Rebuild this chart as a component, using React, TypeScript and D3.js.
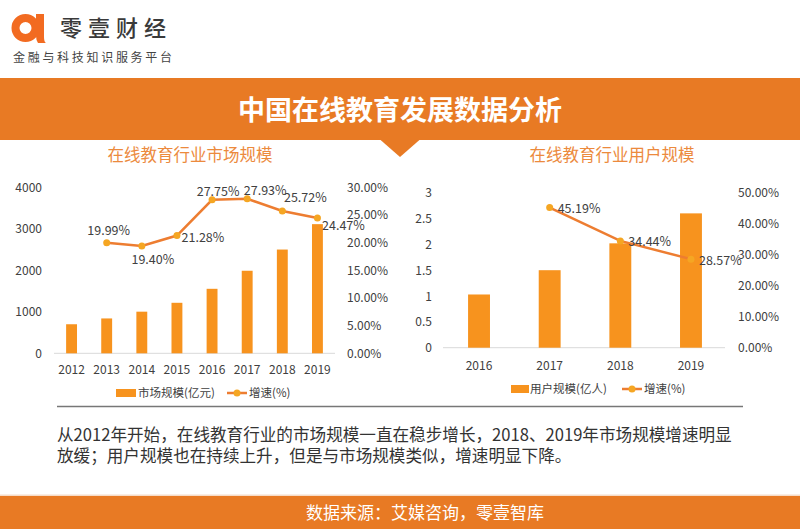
import React from "react";
import * as d3 from "d3";

const marketYears = ["2012", "2013", "2014", "2015", "2016", "2017", "2018", "2019"];
const marketSize = [700, 840, 1003, 1217, 1554, 1989, 2500, 3112];
const marketGrowthYears = ["2013", "2014", "2015", "2016", "2017", "2018", "2019"];
const marketGrowth = [0.1999, 0.194, 0.2128, 0.2775, 0.2793, 0.2572, 0.2447];
const marketLeftTicks = [0, 1000, 2000, 3000, 4000];
const marketRightTicks = [0, 0.05, 0.1, 0.15, 0.2, 0.25, 0.3];

const userYears = ["2016", "2017", "2018", "2019"];
const userSize = [1.03, 1.5, 2.02, 2.6];
const userGrowthYears = ["2017", "2018", "2019"];
const userGrowth = [0.4519, 0.3444, 0.2857];
const userLeftTicks = [0, 0.5, 1, 1.5, 2, 2.5, 3];
const userRightTicks = [0, 0.1, 0.2, 0.3, 0.4, 0.5];

// label layout offsets (dx from point centre, dy baseline offset)
const marketLabelDx = [2, 11, 26, 6, 18, 23, 26];
const marketLabelDy = [-8, 18.5, 6, -4, -4, -8.5, 12.5];

const FONT = "'Noto Sans CJK SC', 'Noto Sans', sans-serif";
const BAR = "#F7931E";
const LINE = "#ED7D31";
const MARK = "#F5A623";
const HEAD = "#E87A24";
const TXT = "#404040";

const pct = (v: number) => (v * 100).toFixed(2) + "%";

function MarketChart() {
  const x = d3.scaleBand<string>().domain(marketYears).range([54, 335]).paddingInner(0.69).paddingOuter(0.345);
  const yL = d3.scaleLinear().domain([0, 4000]).range([353.3, 187.3]);
  const yR = d3.scaleLinear().domain([0, 0.3]).range([353.3, 187.3]);
  const cx = (yr: string) => (x(yr) as number) + x.bandwidth() / 2;
  const line = d3.line<number>().x((_, i) => cx(marketGrowthYears[i])).y((d) => yR(d));
  return (
    <g fontFamily={FONT}>
      <text x={190} y={161} textAnchor="middle" fontSize={16.5} fill="#EC8A3D">在线教育行业市场规模</text>
      {marketLeftTicks.map((t) => (
        <text key={t} x={42} y={yL(t) + 4.5} textAnchor="end" fontSize={12} fill={TXT}>{t}</text>
      ))}
      {marketRightTicks.map((t) => (
        <text key={t} x={347} y={yR(t) + 4.5} textAnchor="start" fontSize={12} fill={TXT}>{pct(t)}</text>
      ))}
      <line x1={54} x2={335} y1={yL(0)} y2={yL(0)} stroke="#d9d9d9" strokeWidth={1} />
      {marketSize.map((v, i) => (
        <rect key={i} x={x(marketYears[i])} y={yL(v)} width={x.bandwidth()} height={yL(0) - yL(v)} fill={BAR} />
      ))}
      {marketYears.map((yr) => (
        <text key={yr} x={cx(yr)} y={373.5} textAnchor="middle" fontSize={12} fill={TXT}>{yr}</text>
      ))}
      <path d={line(marketGrowth) || ""} fill="none" stroke={LINE} strokeWidth={2.5} />
      {marketGrowth.map((v, i) => (
        <circle key={i} cx={cx(marketGrowthYears[i])} cy={yR(v)} r={3.5} fill={MARK} />
      ))}
      {marketGrowth.map((v, i) => (
        <text key={"l" + i} x={cx(marketGrowthYears[i]) + marketLabelDx[i]} y={yR(v) + marketLabelDy[i]} textAnchor="middle" fontSize={12.5} fill={TXT}>{pct(v)}</text>
      ))}
      <rect x={116} y={389} width={20} height={8} fill={BAR} />
      <text x={138} y={397} fontSize={11.5} fill={TXT}>市场规模(亿元)</text>
      <line x1={227} x2={247} y1={393} y2={393} stroke={LINE} strokeWidth={2.5} />
      <circle cx={237} cy={393} r={3.5} fill={MARK} />
      <text x={249} y={397} fontSize={11.5} fill={TXT}>增速(%)</text>
    </g>
  );
}

function UserChart() {
  const x = d3.scaleBand<string>().domain(userYears).range([443.7, 726.3]).paddingInner(0.69).paddingOuter(0.345);
  const yL = d3.scaleLinear().domain([0, 3]).range([347.7, 192.7]);
  const yR = d3.scaleLinear().domain([0, 0.5]).range([347.7, 192.7]);
  const cx = (yr: string) => (x(yr) as number) + x.bandwidth() / 2;
  const line = d3.line<number>().x((_, i) => cx(userGrowthYears[i])).y((d) => yR(d));
  return (
    <g fontFamily={FONT}>
      <text x={612} y={161} textAnchor="middle" fontSize={16.5} fill="#EC8A3D">在线教育行业用户规模</text>
      {userLeftTicks.map((t) => (
        <text key={t} x={432} y={yL(t) + 4.5} textAnchor="end" fontSize={12} fill={TXT}>{String(t)}</text>
      ))}
      {userRightTicks.map((t) => (
        <text key={t} x={738} y={yR(t) + 4.5} textAnchor="start" fontSize={12} fill={TXT}>{pct(t)}</text>
      ))}
      <line x1={443} x2={725} y1={yL(0)} y2={yL(0)} stroke="#d9d9d9" strokeWidth={1} />
      {userSize.map((v, i) => (
        <rect key={i} x={x(userYears[i])} y={yL(v)} width={x.bandwidth()} height={yL(0) - yL(v)} fill={BAR} />
      ))}
      {userYears.map((yr) => (
        <text key={yr} x={cx(yr)} y={369.5} textAnchor="middle" fontSize={12} fill={TXT}>{yr}</text>
      ))}
      <path d={line(userGrowth) || ""} fill="none" stroke={LINE} strokeWidth={2.5} />
      {userGrowth.map((v, i) => (
        <circle key={i} cx={cx(userGrowthYears[i])} cy={yR(v)} r={3.5} fill={MARK} />
      ))}
      {userGrowth.map((v, i) => (
        <text key={"l" + i} x={cx(userGrowthYears[i]) + 8} y={yR(v) + 5.5} textAnchor="start" fontSize={12.5} fill={TXT}>{pct(v)}</text>
      ))}
      <rect x={511} y={385} width={18} height={8} fill={BAR} />
      <text x={530} y={393} fontSize={11.5} fill={TXT}>用户规模(亿人)</text>
      <line x1={622} x2={642} y1={389} y2={389} stroke={LINE} strokeWidth={2.5} />
      <circle cx={632} cy={389} r={3.5} fill={MARK} />
      <text x={644} y={393} fontSize={11.5} fill={TXT}>增速(%)</text>
    </g>
  );
}

export default function App() {
  return (
    <div style={{ position: "absolute", left: 0, top: 0 }}>
      <svg width={800} height={529} viewBox="0 0 800 529" style={{ display: "block", background: "#fff" }}>
        {/* logo */}
        <g>
          <circle cx={25.5} cy={28} r={10} fill="none" stroke="#F26B21" strokeWidth={8} />
          <path d="M36,14 L44,14 L44,37 Q44,42 46,43 L38,43 Q36,40 36,36 Z" fill="#F26B21" />
        </g>
        <text x={60} y={36} fontFamily={FONT} fontSize={22} fontWeight={500} letterSpacing={6} fill="#3a3a3a">零壹财经</text>
        <text x={13} y={62} fontFamily={FONT} fontSize={12} letterSpacing={2.7} fill="#444">金融与科技知识服务平台</text>

        {/* header band */}
        <rect x={0} y={78} width={800} height={62} fill={HEAD} />
        <path d="M380,139.5 L420,139.5 L400,157 Z" fill={HEAD} />
        <text x={400} y={120} textAnchor="middle" fontFamily={FONT} fontSize={27} fontWeight={700} fill="#fff">中国在线教育发展数据分析</text>

        <MarketChart />
        <UserChart />

        <line x1={57} x2={743} y1={406.5} y2={406.5} stroke="#777" strokeWidth={1.5} />

        <text x={57} y={440.5} fontFamily={FONT} fontSize={16.6} fill="#333">从2012年开始，在线教育行业的市场规模一直在稳步增长，2018、2019年市场规模增速明显</text>
        <text x={57} y={461.5} fontFamily={FONT} fontSize={16.6} fill="#333">放缓；用户规模也在持续上升，但是与市场规模类似，增速明显下降。</text>

        <rect x={0} y={494.5} width={800} height={1.5} fill="#f6dcc8" />
        <rect x={0} y={496} width={800} height={33} fill={HEAD} />
        <text x={306} y={519} textAnchor="start" fontFamily={FONT} fontSize={17} fill="#fff">数据来源：艾媒咨询，零壹智库</text>
      </svg>
    </div>
  );
}
